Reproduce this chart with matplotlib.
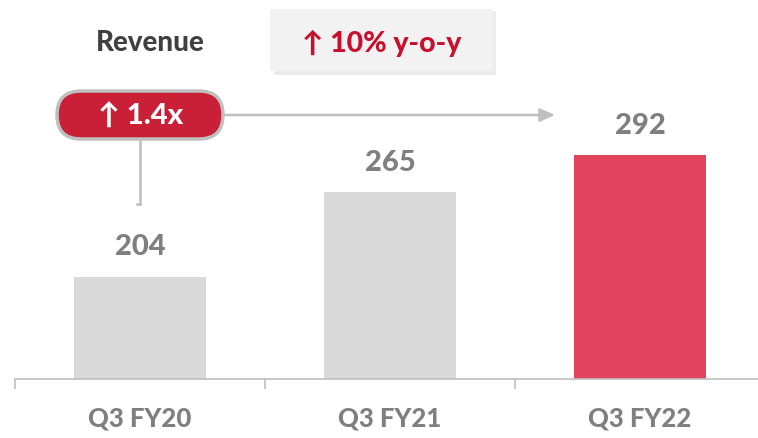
import matplotlib.pyplot as plt
from matplotlib.patches import FancyBboxPatch, Rectangle

# Quarterly revenue
quarters = ["Q3 FY20", "Q3 FY21", "Q3 FY22"]
revenue = [204, 265, 292]
bar_colors = ["#d9d9d9", "#d9d9d9", "#e3445d"]
yoy_text = "\u2191 10% y-o-y"
growth_text = "\u2191 1.4x"

W, H = 758, 439
FONT = ["Lato", "DejaVu Sans"]
plt.rcParams["font.family"] = FONT


def fx(px):
    return px / W


def fy(py):
    return 1 - py / H


fig = plt.figure(figsize=(W / 100, H / 100), dpi=100)
ax = fig.add_axes([fx(15), fy(380), fx(750), fy(0) - fy(380)])

x = range(len(quarters))
bars = ax.bar(x, revenue, width=0.53, color=bar_colors, zorder=2)
ax.set_xlim(-0.5, 2.5)
ax.set_ylim(130, 405)

for b, v in zip(bars, revenue):
    ax.annotate(str(v), (b.get_x() + b.get_width() / 2, v), xytext=(0, 22),
                textcoords="offset points", ha="center", va="center",
                fontsize=21, fontweight="black", color="#7f7f7f")

for s in ["top", "right", "left"]:
    ax.spines[s].set_visible(False)
ax.spines["bottom"].set_color("#bfbfbf")
ax.spines["bottom"].set_linewidth(1.2)
ax.set_yticks([])
ax.set_xticks([-0.5, 0.5, 1.5, 2.5])
ax.set_xticklabels([])
ax.tick_params(axis="x", length=7, color="#bfbfbf", width=1.2)
ax.set_xticks(list(x), minor=True)
ax.set_xticklabels(quarters, minor=True)
ax.tick_params(axis="x", which="minor", length=0, pad=19,
               labelsize=18.5, labelcolor="#7f7f7f")
for t in ax.get_xticklabels(minor=True):
    t.set_fontweight("black")

# Title and y-o-y callout
fig.text(fx(150), fy(43), "Revenue", ha="center", va="center",
         fontsize=20, fontweight="black", color="#404040")
fig.patches.append(Rectangle((fx(274), fy(76)), fx(222), fy(12) - fy(76),
                             transform=fig.transFigure, facecolor="#e0e0e0",
                             edgecolor="none", alpha=0.6, zorder=1))
fig.patches.append(Rectangle((fx(270), fy(72)), fx(222), fy(10) - fy(72),
                             transform=fig.transFigure, facecolor="#f2f2f2",
                             edgecolor="none", zorder=2))
fig.text(fx(382), fy(43), yoy_text, ha="center", va="center",
         fontsize=20.5, fontweight="black", color="#c8102e", zorder=3)

# Growth bracket: pill, horizontal arrow, vertical drop line
fig.add_artist(plt.Line2D([fx(140), fx(140)], [fy(142), fy(205)],
                          color="#bfbfbf", lw=1.8))
fig.add_artist(plt.Line2D([fx(137), fx(140)], [fy(205), fy(205)],
                          color="#bfbfbf", lw=1.8))
ax_ann = fig.add_axes([0, 0, 1, 1], facecolor="none")
ax_ann.set_xlim(0, W)
ax_ann.set_ylim(H, 0)
ax_ann.axis("off")
ax_ann.annotate("", xy=(555, 116), xytext=(224, 116),
                arrowprops=dict(arrowstyle="-|>,head_length=0.9,head_width=0.4",
                                color="#bfbfbf", lw=1.8, shrinkA=0, shrinkB=0))
pill = FancyBboxPatch((57, 92), 166, 48, boxstyle="round,pad=0,rounding_size=24",
                      facecolor="#c91f37", edgecolor="#bfbfbf", linewidth=2.5,
                      zorder=3)
ax_ann.add_patch(pill)
ax_ann.text(141, 117, growth_text, ha="center", va="center", fontsize=21,
            fontweight="black", color="white", zorder=4)

fig.savefig("out.png", dpi=100)
